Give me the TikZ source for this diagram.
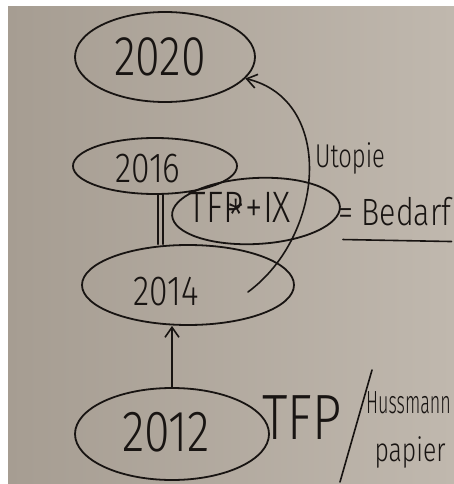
\documentclass[tikz,border=0pt]{standalone}
\usepackage{fontspec}
\setmainfont{Fira Sans Light}
\usetikzlibrary{shapes.geometric,arrows.meta}
\definecolor{paperdark}{RGB}{166,157,146}
\definecolor{paperlight}{RGB}{192,184,174}
\definecolor{ink}{RGB}{24,20,18}
\newcommand\hw[3][.8]{\scalebox{#1}[1]{\fontsize{#2}{#2}\selectfont #3}}
\tikzset{
  ring/.style={draw=ink,ellipse,line width=1.8pt,inner sep=0pt},
  hand/.style={text=ink,inner sep=0pt},
}
\begin{document}
\begin{tikzpicture}[x=1pt,y=-1pt,>={Straight Barb[length=10pt,width=14pt]},line cap=round]
\useasboundingbox (0,0) rectangle (454,484);
\fill[white] (0,0) rectangle (454,484);
\shade[left color=paperdark,right color=paperlight] (8,7) rectangle (454,484);
% the years
\node[ring,minimum width=180pt,minimum height=90pt] (y2020) at (165,57) {};
\node[ring,minimum width=164pt,minimum height=56pt] (y2016) at (155,166) {};
\node[ring,minimum width=212pt,minimum height=80pt] (y2014) at (188,285) {};
\node[ring,minimum width=194pt,minimum height=92pt] (y2012) at (172,434) {};
\node[ring,minimum width=168pt,minimum height=66pt,rotate=3] (ring tfp) at (256,211) {};
\node[hand] (t2020) at (160,57) {\hw{56}{2020}};
\node[hand] (t2016) at (148,169) {\hw{42}{2016}};
\node[hand] (t2014) at (166,292) {\hw{42}{2014}};
\node[hand] (t2012) at (166,432) {\hw{58}{2012}};
\node[hand] (tfpix) at (240,212) {\hw{44}{TFP\kern-.42em\raisebox{-.2em}{*}\kern.05em+IX}};
% links
\foreach \dx in {3,8}
  \draw[ink,line width=2.2pt] ([xshift=\dx pt]y2016.south) -- ([xshift=\dx pt]y2016.south |- y2014.north);
\draw[ink,line width=1.6pt,->] (y2012.north) -- (y2012.north |- y2014.south);
\coordinate (utopia) at (248,292);
\draw[ink,line width=1.6pt,->] (utopia) .. controls (325,235) and (335,100) .. (y2020.-15);
\node[hand] (utopie) at (350,158) {\hw[.72]{33}{Utopie}};
\node[hand,anchor=west] (bedarf) at (338,212) {\hw{38}{= Bedarf}};
\draw[ink,line width=1.6pt] ([xshift=5pt,yshift=-13pt]bedarf.south west) -- ([yshift=-15pt]bedarf.south east);
% bottom line
\node[hand] (tfp) at (302,418) {\hw{64}{TFP}};
\draw[ink,line width=1.6pt] (372,370) -- (340,482);
\node[hand,anchor=west] (huss) at (366,403) {\hw[.56]{32}{Hussmann}};
\node[hand] (papier) at (410,452) {\hw[.75]{33}{papier}};
\end{tikzpicture}
\end{document}
